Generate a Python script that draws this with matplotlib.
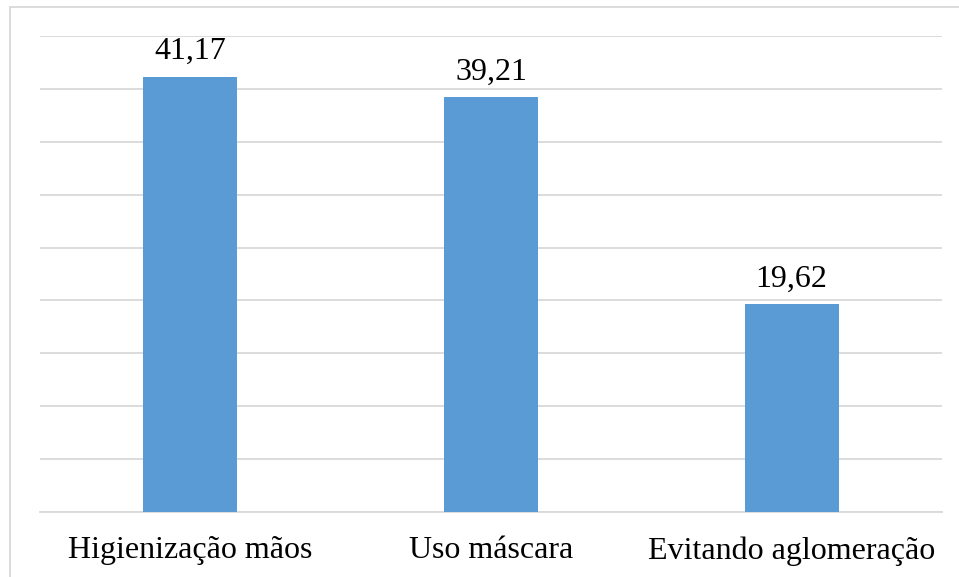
import matplotlib
matplotlib.use("Agg")
import matplotlib.pyplot as plt
from matplotlib.lines import Line2D

categories = ["Higienização mãos", "Uso máscara", "Evitando aglomeração"]
values = [41.17, 39.21, 19.62]
value_labels = ["41,17", "39,21", "19,62"]

plt.rcParams['font.family'] = ['Liberation Serif', 'DejaVu Serif']

W, H = 959, 577
fig = plt.figure(figsize=(W / 100, H / 100), dpi=100)
ax = fig.add_axes([40 / W, 65 / H, 902 / W, 476 / H])

x = list(range(len(categories)))
bars = ax.bar(x, values, width=0.313, color="#5B9BD5", zorder=3)
ax.set_xlim(-0.5, len(categories) - 0.5)
ax.set_ylim(0, 45)
ax.set_yticks(range(0, 46, 5))
ax.yaxis.grid(True, color="#D9D9D9", linewidth=1.3, zorder=0)
ax.tick_params(axis='y', left=False, labelleft=False)
ax.set_xticks(x)
ax.set_xticklabels(categories, fontsize=23)
ax.tick_params(axis='x', length=0, pad=17.5, colors="black")
for s in ["top", "right", "left"]:
    ax.spines[s].set_visible(False)
ax.spines["bottom"].set_color("#D9D9D9")
ax.spines["bottom"].set_linewidth(1.3)

for b, lab in zip(bars, value_labels):
    ax.annotate(lab, (b.get_x() + b.get_width() / 2, b.get_height()),
                xytext=(0, 12.5), textcoords="offset points",
                ha="center", va="baseline", fontsize=23, color="black")

# outer border
fig.add_artist(Line2D([10 / W, 10 / W], [0, 1 - 7 / H], transform=fig.transFigure,
                      color="#D9D9D9", linewidth=1.3))
fig.add_artist(Line2D([10 / W, 1], [1 - 7 / H, 1 - 7 / H], transform=fig.transFigure,
                      color="#D9D9D9", linewidth=1.3))

fig.savefig("out.png", dpi=100)
